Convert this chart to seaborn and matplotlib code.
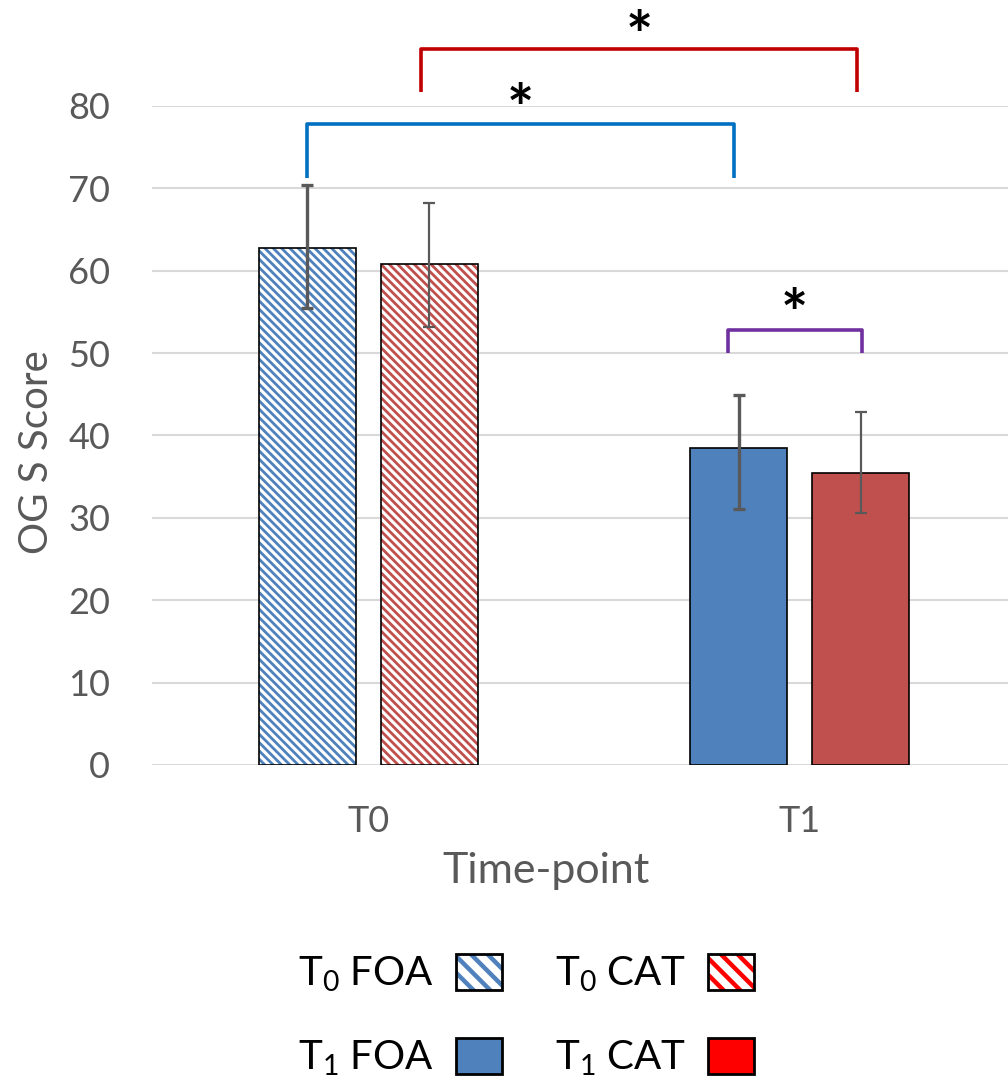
import numpy as np
import pandas as pd
import matplotlib
matplotlib.use("Agg")
import matplotlib.pyplot as plt
import seaborn as sns
from matplotlib.patches import Patch
from matplotlib.colors import to_rgba

# ---------------- data ----------------
time_points = ["T0", "T1"]
groups = ["FOA", "CAT"]
means_foa = [62.8, 38.5]
means_cat = [60.8, 35.4]
err_low_foa = [7.3, 7.4]
err_high_foa = [7.6, 6.4]
err_low_cat = [7.6, 4.8]
err_high_cat = [7.4, 7.4]
legend_labels = [r"T$_\mathrm{0}$ FOA", r"T$_\mathrm{1}$ FOA", r"T$_\mathrm{0}$ CAT", r"T$_\mathrm{1}$ CAT"]
# significance brackets: (bar index a, bar index b), leg bottom, top
bracket_pairs = [(0, 2), (1, 3), (2, 3)]
bracket_low = [71.2, 81.7, 50.0]
bracket_high = [77.8, 86.9, 52.8]
star_y = [79.2, 88.1, 54.3]

# ---------------- style ----------------
sns.set_theme(style="white")
plt.rcParams["font.family"] = ["Lato", "DejaVu Sans"]
plt.rcParams["mathtext.fontset"] = "custom"
plt.rcParams["mathtext.rm"] = "Lato"
plt.rcParams["mathtext.it"] = "Lato:italic"
plt.rcParams["hatch.linewidth"] = 2.0

foa_color = "#4F81BD"
cat_color = "#C0504D"
grey_text = "#595959"
grid_col = "#D9D9D9"

df = pd.DataFrame({
    "time": time_points * 2,
    "group": [groups[0]] * 2 + [groups[1]] * 2,
    "score": means_foa + means_cat,
})

fig = plt.figure(figsize=(10.08, 10.88), dpi=100)
ax = fig.add_axes([0.1508, 0.2969, 0.8492, 0.6057])

sns.barplot(data=df, x="time", y="score", hue="group", order=time_points,
            hue_order=groups, palette=[foa_color, cat_color], saturation=1,
            errorbar=None, width=0.5657, gap=0.209, edgecolor="black",
            linewidth=1.2, legend=False, ax=ax, zorder=3)

# bar patches order: hue-major -> FOA T0, FOA T1, CAT T0, CAT T1
bars = [p for p in ax.patches][:4]
bar_map = {("FOA", "T0"): bars[0], ("FOA", "T1"): bars[1],
           ("CAT", "T0"): bars[2], ("CAT", "T1"): bars[3]}
for g, col in zip(groups, [foa_color, cat_color]):
    p = bar_map[(g, "T0")]
    p.set_facecolor("white")
    p.set_hatch("\\\\\\\\")
    p.set_edgecolor("black")
    p._hatch_color = to_rgba(col)

# error bars
order = [("FOA", "T0"), ("CAT", "T0"), ("FOA", "T1"), ("CAT", "T1")]
lows = {("FOA", "T0"): err_low_foa[0], ("FOA", "T1"): err_low_foa[1],
        ("CAT", "T0"): err_low_cat[0], ("CAT", "T1"): err_low_cat[1]}
highs = {("FOA", "T0"): err_high_foa[0], ("FOA", "T1"): err_high_foa[1],
         ("CAT", "T0"): err_high_cat[0], ("CAT", "T1"): err_high_cat[1]}
centers = []
for key in order:
    p = bar_map[key]
    cx = p.get_x() + p.get_width() / 2
    centers.append(cx)
    lw = 2.4 if key[0] == "FOA" else 1.6
    ax.errorbar(cx, p.get_height(), yerr=[[lows[key]], [highs[key]]],
                fmt="none", ecolor=grey_text, elinewidth=lw, capsize=4,
                capthick=lw, zorder=4)

# brackets
bcolors = ["#0070C0", "#C00000", "#7030A0"]
nudges = [(0.0, -0.012), (-0.019, -0.008), (-0.026, 0.003)]
for (a, b), lo, hi, sy, c, (na, nb) in zip(bracket_pairs, bracket_low, bracket_high,
                                            star_y, bcolors, nudges):
    xa, xb = centers[a] + na, centers[b] + nb
    ax.plot([xa, xa, xb, xb], [lo, hi, hi, lo], color=c, lw=2.6,
            solid_joinstyle="round", solid_capstyle="butt", clip_on=False, zorder=5)
    ax.text((xa + xb) / 2, sy, "*", ha="center", va="center", fontsize=46,
            fontweight="bold", color="black", clip_on=False)

# axes styling
ax.set_ylim(0, 80)
ax.set_xlim(-0.502, 1.483)
ax.set_yticks(np.arange(0, 81, 10))
ax.yaxis.grid(True, color=grid_col, lw=1.5, zorder=0)
ax.set_axisbelow(True)
for s in ax.spines.values():
    s.set_visible(False)
ax.tick_params(axis="y", length=0, pad=30, labelsize=26, labelcolor=grey_text)
ax.tick_params(axis="x", length=0, pad=29, labelsize=26, labelcolor=grey_text)
ax.set_ylabel("OG S Score", fontsize=29, color=grey_text)
ax.yaxis.set_label_coords(-0.113, 0.475)
ax.set_xlabel("Time-point", fontsize=31, color=grey_text)
ax.xaxis.set_label_coords(0.46, -0.132)

# legend
handles = [
    Patch(facecolor="white", edgecolor="black", hatch="\\\\", linewidth=2),
    Patch(facecolor=foa_color, edgecolor="black", linewidth=2),
    Patch(facecolor="white", edgecolor="black", hatch="\\\\", linewidth=2),
    Patch(facecolor="#FF0000", edgecolor="black", linewidth=2),
]
leg = fig.legend(handles, legend_labels, ncol=2, loc="center",
                 bbox_to_anchor=(0.522, 0.066), frameon=False, markerfirst=False,
                 fontsize=29, handlelength=1.15, handleheight=0.98,
                 handletextpad=0.55, columnspacing=1.3, labelspacing=1.1)
for h, c in zip(leg.legend_handles, [foa_color, foa_color, "#FF0000", "#FF0000"]):
    if h.get_hatch():
        h._hatch_color = to_rgba(c)
        if hasattr(h, "set_hatch_linewidth"):
            h.set_hatch_linewidth(3.2)
for t in leg.get_texts():
    t.set_color("black")

fig.savefig("out.png", dpi=100)
